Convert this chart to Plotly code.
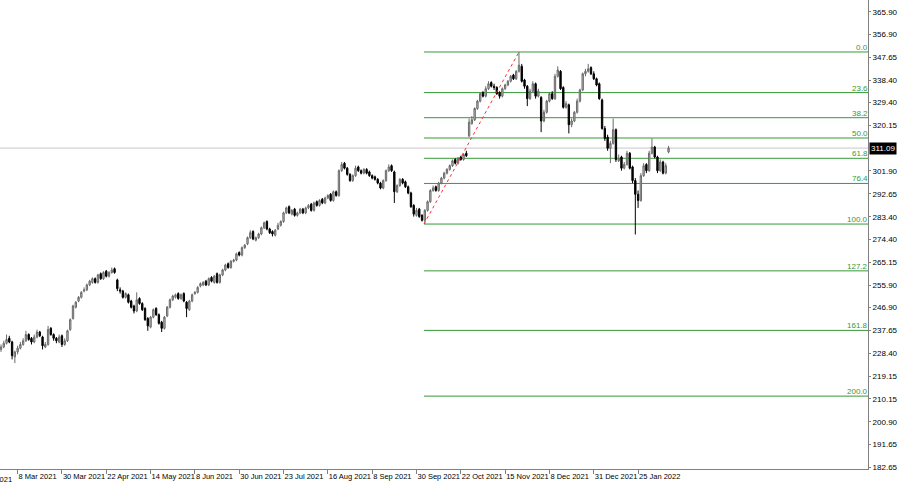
import plotly.graph_objects as go

# ---------------- data ----------------
opens = [
    230.0, 231.0, 232.5, 234.5, 233.0, 227.0, 229.0, 230.5, 232.0, 233.5,
    236.0, 234.5, 233.0, 235.0, 237.0, 235.0, 231.0, 232.0, 238.5, 236.0,
    234.5, 233.0, 235.5, 232.0, 233.5, 238.0, 242.5, 247.0, 249.5, 251.0,
    253.5, 254.0, 256.0, 257.0, 258.5, 257.0, 260.5, 258.5, 261.5, 259.5,
    261.0, 262.5, 258.0, 254.0, 253.5, 251.0, 252.0, 249.5, 247.5, 245.5,
    250.5, 248.5, 246.5, 242.5, 239.0, 243.0, 246.5, 244.0, 241.0, 238.5,
    243.5, 247.0, 250.0, 251.0, 252.5, 250.5, 252.5, 249.0, 246.0, 249.5,
    252.5, 253.0, 255.5, 256.0, 257.5, 256.0, 259.0, 257.0, 260.5, 257.0,
    260.0, 262.0, 264.5, 263.0, 265.5, 266.0, 269.0, 268.0, 271.0, 272.5,
    275.0, 277.5, 274.0, 275.0, 276.5, 279.0, 281.5, 278.5, 277.5, 276.0,
    278.5, 280.0, 281.5, 285.0, 287.5, 284.5, 286.5, 284.0, 285.0, 286.5,
    285.0, 287.0, 288.5, 286.0, 289.5, 288.0, 290.5, 289.0, 291.0, 292.5,
    290.0, 293.5, 292.0, 302.0, 305.0, 303.0, 300.5, 298.0, 300.0, 303.5,
    302.0, 301.0, 302.5, 301.5, 300.0, 299.5, 298.5, 297.0, 295.0, 298.0,
    302.0, 304.0, 301.5, 293.5, 296.0, 298.5, 297.5, 295.5, 293.0, 288.0,
    284.0, 286.5, 284.0, 282.0, 286.0, 289.5, 294.0, 295.5, 294.0, 297.0,
    299.0, 301.0, 302.5, 304.0, 306.5, 305.0, 307.5, 306.5, 309.0, 316.0,
    321.0, 322.5, 327.0, 330.0, 333.5, 332.0, 335.0, 337.5, 336.0, 335.5,
    333.5, 332.0, 335.0, 336.5, 338.0, 340.5, 339.0, 342.0, 344.0, 338.5,
    336.0, 331.0, 334.0, 337.0, 332.0, 331.5, 322.0, 325.5, 330.0, 333.0,
    331.0, 340.0, 342.0, 335.5, 327.5, 328.5, 320.5, 322.0, 325.5, 330.0,
    334.5, 341.0, 342.0, 343.5, 341.0, 339.0, 337.0, 330.5, 319.0, 315.5,
    311.0, 313.0, 318.5, 306.0, 307.5, 303.0, 304.5, 309.0, 303.5, 298.0,
    292.5, 290.0, 300.0, 304.5, 302.0, 309.0, 311.5, 307.5, 302.0, 305.5,
    301.0, 309.5,
]
highs = [
    232.0, 233.5, 236.0, 235.5, 233.5, 229.5, 231.5, 233.0, 234.5, 237.5,
    236.5, 235.0, 236.0, 238.0, 237.5, 235.5, 233.0, 239.5, 239.0, 236.5,
    235.0, 236.0, 236.0, 234.5, 238.0, 242.5, 248.0, 249.5, 251.5, 253.5,
    255.0, 256.5, 258.0, 259.0, 259.0, 260.5, 261.0, 261.5, 262.0, 261.5,
    263.0, 263.0, 258.5, 255.0, 254.0, 253.0, 252.5, 250.0, 248.0, 253.0,
    251.0, 249.0, 247.0, 243.0, 243.5, 246.5, 247.0, 244.5, 241.5, 243.5,
    247.5, 250.5, 252.0, 252.5, 253.0, 252.5, 253.0, 249.5, 250.0, 252.5,
    253.5, 255.5, 257.0, 257.5, 258.0, 259.0, 259.5, 260.0, 261.0, 260.5,
    262.5, 264.5, 265.0, 266.0, 266.5, 269.0, 269.5, 271.5, 272.5, 275.5,
    278.0, 278.0, 275.5, 277.0, 279.5, 281.5, 282.0, 279.0, 278.0, 278.5,
    281.0, 282.0, 285.5, 287.5, 288.0, 286.5, 287.0, 285.5, 287.0, 287.0,
    287.5, 288.5, 289.0, 289.5, 290.0, 290.5, 291.0, 291.5, 292.5, 293.0,
    294.0, 294.0, 302.5, 305.5, 305.5, 303.5, 301.0, 300.5, 304.0, 304.0,
    302.5, 303.0, 303.0, 302.0, 300.5, 300.0, 299.0, 297.5, 298.5, 302.5,
    304.5, 304.5, 302.0, 296.5, 299.0, 299.0, 298.0, 296.0, 293.5, 288.5,
    287.0, 287.0, 284.5, 286.5, 290.0, 294.5, 296.0, 296.0, 297.5, 299.5,
    301.5, 303.0, 304.5, 306.5, 307.0, 307.5, 308.0, 309.0, 310.0, 323.0,
    324.0, 327.5, 330.5, 333.5, 334.0, 336.0, 338.0, 338.0, 337.0, 336.0,
    334.0, 335.5, 337.0, 338.5, 340.5, 341.0, 342.5, 349.8, 345.0, 339.0,
    336.5, 335.0, 338.0, 337.5, 335.0, 332.0, 326.5, 330.5, 333.5, 334.0,
    341.0, 344.0, 342.5, 336.0, 330.0, 329.0, 323.0, 326.0, 331.0, 335.0,
    341.5, 343.0, 345.0, 344.0, 342.0, 339.5, 337.5, 331.0, 320.0, 316.5,
    314.0, 323.0, 319.0, 308.5, 308.0, 305.5, 310.0, 309.5, 304.0, 299.0,
    294.0, 301.0, 305.0, 305.0, 310.0, 315.0, 312.0, 308.0, 306.5, 306.0,
    305.0, 312.0,
]
lows = [
    229.0, 230.5, 232.0, 232.5, 226.0, 224.5, 228.0, 230.0, 231.5, 233.0,
    233.5, 232.0, 232.5, 234.5, 235.0, 230.0, 230.5, 231.5, 235.5, 233.5,
    232.5, 232.5, 231.0, 231.5, 233.0, 237.5, 242.0, 246.5, 249.0, 250.5,
    253.0, 253.5, 255.5, 256.5, 256.5, 256.5, 258.0, 258.0, 259.0, 259.0,
    260.5, 260.5, 253.5, 252.5, 250.5, 250.5, 248.5, 246.5, 244.5, 245.0,
    248.0, 245.5, 241.5, 237.5, 238.5, 242.5, 243.5, 240.0, 237.0, 238.0,
    243.0, 246.5, 249.5, 250.5, 250.0, 250.0, 249.0, 243.0, 245.5, 249.0,
    252.0, 252.5, 255.0, 255.5, 255.5, 255.5, 257.0, 256.5, 256.5, 256.5,
    259.5, 261.5, 262.5, 262.5, 265.0, 265.5, 267.5, 267.5, 270.5, 272.0,
    274.5, 274.0, 273.5, 274.5, 276.0, 278.5, 278.0, 276.5, 275.5, 275.5,
    278.0, 279.5, 281.0, 284.5, 284.5, 284.0, 283.5, 283.5, 284.5, 284.5,
    284.5, 286.5, 285.5, 285.5, 287.5, 287.5, 288.5, 288.5, 290.5, 289.5,
    289.5, 291.5, 291.5, 301.5, 302.5, 300.0, 297.5, 297.5, 299.5, 301.5,
    300.5, 300.5, 300.5, 299.5, 298.5, 298.0, 296.5, 294.5, 294.5, 297.5,
    301.5, 301.5, 289.0, 293.0, 295.5, 296.5, 295.0, 292.5, 287.0, 283.5,
    283.5, 283.0, 281.5, 280.5, 285.5, 289.0, 293.5, 293.5, 293.5, 296.5,
    298.5, 300.5, 302.0, 303.5, 304.5, 304.5, 306.0, 306.0, 307.5, 315.5,
    320.5, 322.0, 326.5, 329.5, 331.5, 331.5, 334.5, 335.5, 334.5, 332.5,
    331.0, 331.5, 334.5, 336.0, 337.5, 338.5, 338.5, 341.5, 337.5, 335.0,
    328.0, 330.5, 333.5, 331.0, 331.5, 317.5, 321.5, 325.0, 329.5, 330.5,
    330.5, 339.5, 334.5, 327.0, 327.0, 317.0, 319.5, 321.5, 325.0, 329.5,
    334.0, 340.0, 341.5, 340.5, 338.5, 336.0, 330.5, 318.5, 314.0, 310.0,
    305.0, 312.5, 305.5, 305.5, 302.0, 302.5, 304.0, 302.5, 297.0, 276.3,
    287.0, 289.5, 299.5, 301.0, 301.5, 308.5, 307.0, 301.0, 301.5, 300.5,
    300.5, 309.0,
]
closes = [
    231.0, 232.5, 234.0, 233.0, 227.5, 229.0, 230.5, 232.0, 233.5, 236.0,
    234.0, 233.0, 235.0, 237.0, 235.5, 231.5, 232.0, 238.0, 236.0, 234.5,
    233.5, 235.0, 232.0, 233.5, 237.5, 242.0, 247.5, 249.0, 251.0, 253.0,
    254.0, 256.0, 257.5, 258.5, 257.0, 260.0, 258.5, 261.0, 259.5, 261.0,
    262.0, 261.0, 254.5, 253.5, 251.0, 252.5, 249.0, 247.0, 245.5, 250.0,
    248.5, 246.0, 242.0, 239.5, 243.0, 246.0, 244.0, 240.5, 238.5, 243.0,
    247.0, 250.0, 251.5, 252.0, 250.5, 252.0, 249.5, 246.5, 249.5, 252.0,
    253.0, 255.0, 256.5, 257.0, 256.0, 258.5, 257.5, 259.5, 257.0, 260.0,
    262.0, 264.0, 263.0, 265.5, 266.0, 268.5, 268.0, 271.0, 272.0, 275.0,
    277.0, 274.5, 275.0, 276.5, 279.0, 281.0, 278.5, 277.0, 276.5, 278.0,
    280.0, 281.5, 285.0, 287.0, 285.0, 286.0, 284.0, 285.0, 286.5, 285.0,
    287.0, 288.0, 286.0, 289.0, 288.0, 290.0, 289.0, 291.0, 292.0, 290.0,
    293.5, 292.0, 302.0, 304.5, 303.0, 300.5, 298.0, 300.0, 303.0, 302.0,
    301.0, 302.5, 301.0, 300.0, 299.0, 298.5, 297.0, 295.0, 298.0, 302.0,
    303.5, 302.0, 293.5, 296.0, 298.5, 297.0, 295.5, 293.0, 287.5, 284.5,
    286.0, 283.5, 282.0, 286.0, 289.5, 294.0, 295.0, 294.0, 297.0, 299.0,
    301.0, 302.5, 304.0, 306.0, 305.0, 307.0, 306.5, 308.5, 308.0, 321.5,
    322.5, 327.0, 330.0, 333.0, 332.0, 335.0, 337.0, 336.0, 335.5, 333.0,
    332.0, 335.0, 336.5, 338.0, 340.0, 339.0, 342.0, 344.5, 338.0, 336.0,
    331.0, 334.0, 337.0, 332.0, 334.0, 322.0, 325.5, 330.0, 333.0, 331.0,
    340.0, 342.5, 335.0, 327.5, 329.0, 320.5, 322.0, 325.5, 330.0, 334.5,
    341.0, 342.0, 343.0, 341.0, 339.0, 336.5, 331.0, 319.0, 315.0, 311.0,
    313.0, 318.5, 306.5, 307.0, 303.0, 304.5, 309.0, 303.0, 298.0, 292.5,
    290.0, 300.0, 304.0, 302.0, 309.0, 311.5, 307.5, 302.0, 305.5, 301.0,
    304.0, 311.09,
]
bar_index = list(range(len(closes)))

date_tick_bars = [6, 22, 38, 54, 70, 86, 102, 118, 134, 150, 166, 182, 198, 214, 230]
date_tick_labels = ["8 Mar 2021", "30 Mar 2021", "22 Apr 2021", "14 May 2021", "8 Jun 2021",
                    "30 Jun 2021", "23 Jul 2021", "16 Aug 2021", "8 Sep 2021", "30 Sep 2021",
                    "22 Oct 2021", "15 Nov 2021", "8 Dec 2021", "31 Dec 2021", "25 Jan 2022"]
cut_date_label = "12 Feb 2021"

price_ticks = [365.90, 356.90, 347.65, 338.40, 329.40, 320.15, 301.90, 292.65, 283.40,
               274.40, 265.15, 255.90, 246.90, 237.65, 228.40, 219.15, 210.15, 200.90,
               191.65, 182.65]

current_price = 311.09
fib_low_bar, fib_low = 152.7, 280.5
fib_high_bar, fib_high = 187.0, 349.8
fib_ratios = [0.0, 23.6, 38.2, 50.0, 61.8, 76.4, 100.0, 127.2, 161.8, 200.0]

# ---------------- figure ----------------
X_MIN, X_MAX = -0.36, 313.0
Y_MIN, Y_MAX = 181.85, 370.73
FONT = "Liberation Sans, Arial, sans-serif"
GREEN = "#379937"

fig = go.Figure()
fig.add_trace(go.Candlestick(
    x=bar_index, open=opens, high=highs, low=lows, close=closes,
    increasing=dict(line=dict(color="#6a6a6a", width=1), fillcolor="#c4c4c4"),
    decreasing=dict(line=dict(color="#000000", width=1), fillcolor="#000000"),
    whiskerwidth=0, showlegend=False, hoverinfo="skip",
))

shapes = []
shapes.append(dict(type="line", xref="x", yref="y", x0=X_MIN, x1=X_MAX,
                   y0=current_price, y1=current_price,
                   line=dict(color="#c8c8c8", width=1), layer="below"))
annotations = []
rng = fib_high - fib_low
for r in fib_ratios:
    lvl = fib_high - r / 100.0 * rng
    shapes.append(dict(type="line", xref="x", yref="y", x0=fib_low_bar, x1=X_MAX,
                       y0=lvl, y1=lvl, line=dict(color=GREEN, width=1), layer="below"))
    annotations.append(dict(xref="paper", yref="y", x=1.0, y=lvl, text=f"{r:.1f}",
                            xanchor="right", yanchor="bottom", showarrow=False,
                            font=dict(family=FONT, size=8, color=GREEN),
                            borderpad=0, yshift=-1, xshift=1))
shapes.append(dict(type="line", xref="x", yref="y", x0=fib_low_bar, x1=fib_high_bar,
                   y0=fib_low, y1=fib_high, line=dict(color="#ff3030", width=1, dash="dot")))

annotations.append(dict(xref="paper", yref="y", x=1.0, y=current_price, text=f"{current_price:.2f}",
                        xanchor="left", yanchor="middle", showarrow=False, xshift=1,
                        bgcolor="#000000", font=dict(family=FONT, size=8, color="#ffffff"),
                        borderpad=1))
annotations.append(dict(xref="paper", yref="paper", x=14 / 868, y=0, text=cut_date_label,
                        xanchor="right", yanchor="top", showarrow=False, yshift=-4,
                        font=dict(family=FONT, size=7.5, color="#000000")))

fig.update_layout(
    template="none",
    width=900, height=485,
    margin=dict(l=0, r=32, t=0, b=16, pad=0, autoexpand=False),
    paper_bgcolor="#ffffff", plot_bgcolor="#ffffff",
    shapes=shapes, annotations=annotations,
    font=dict(family=FONT, size=8, color="#000000"),
    xaxis=dict(range=[X_MIN, X_MAX], tickmode="array", tickvals=date_tick_bars,
               ticktext=date_tick_labels, ticks="outside", ticklen=4, tickcolor="#808080",
               tickangle=0, automargin=False, ticklabelposition="outside right",
               showline=True, linecolor="#808080", linewidth=1, mirror=False,
               showgrid=False, zeroline=False, rangeslider=dict(visible=False),
               tickfont=dict(family=FONT, size=7.5, color="#000000")),
    yaxis=dict(range=[Y_MIN, Y_MAX], side="right", tickmode="array", tickvals=price_ticks,
               ticktext=[f"{v:.2f}" for v in price_ticks], ticks="outside", ticklen=2,
               tickcolor="#808080", showline=True, linecolor="#808080", linewidth=1,
               showgrid=False, zeroline=False, automargin=False,
               tickfont=dict(family=FONT, size=8, color="#000000")),
)

fig.write_html("out.html", config={"staticPlot": True},
               post_script="document.body.style.margin='0';document.body.style.overflow='hidden';")
